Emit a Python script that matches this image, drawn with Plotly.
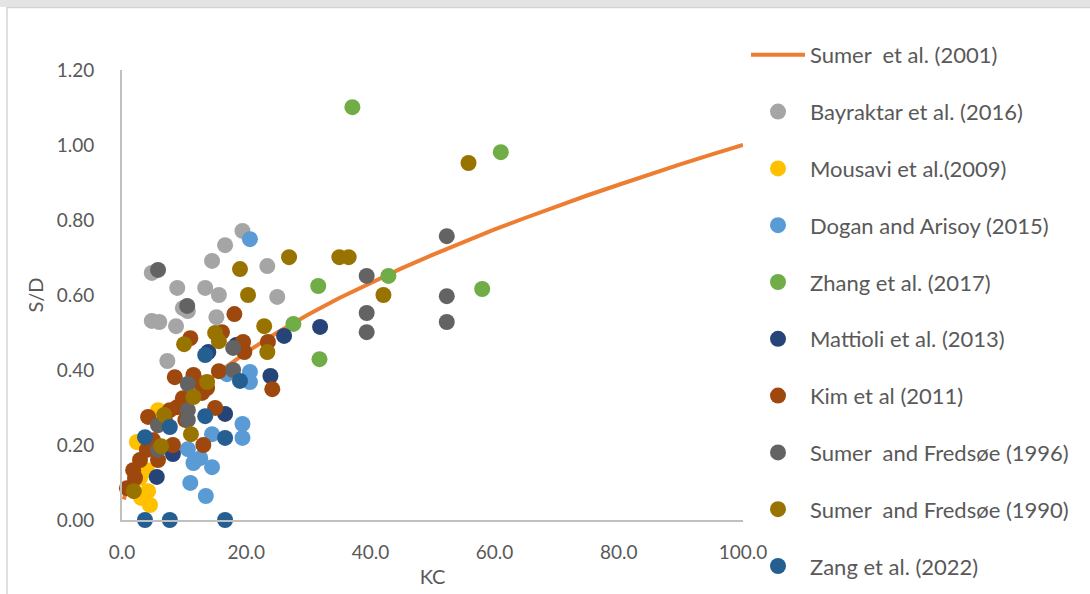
import plotly.graph_objects as go

# Sumer et al. (2001) curve, S/D versus KC
curve_kc = [0.3, 0.5, 1, 1.5, 2, 3, 4, 5, 6, 8, 10, 12, 15, 18, 20, 25, 30, 35, 40, 45,
            50, 55, 60, 65, 70, 75, 80, 85, 90, 95, 100]
curve_sd = [0.055, 0.07, 0.10, 0.122, 0.141, 0.173, 0.20, 0.224, 0.245, 0.283, 0.316, 0.346,
            0.387, 0.424, 0.447, 0.50, 0.548, 0.592, 0.632, 0.671, 0.707, 0.742, 0.775, 0.806,
            0.837, 0.866, 0.894, 0.922, 0.949, 0.975, 1.00]

bayraktar_kc = [4.8, 19.4, 16.6, 14.5, 23.4, 8.9, 13.4, 15.6, 25.0, 9.8, 10.6, 4.8, 6.0, 8.7, 15.2, 7.3]
bayraktar_sd = [0.659, 0.771, 0.733, 0.691, 0.677, 0.619, 0.619, 0.600, 0.595, 0.565, 0.557, 0.531, 0.528, 0.517, 0.541, 0.424]

mousavi_kc = [2.4, 5.8, 4.0, 4.2, 3.1, 4.5, 2.9]
mousavi_sd = [0.208, 0.293, 0.133, 0.077, 0.059, 0.040, 0.112]

dogan_kc = [20.6, 20.6, 20.6, 16.9, 19.4, 19.4, 14.5, 10.6, 11.8, 12.6, 14.5, 11.0, 13.5, 11.5]
dogan_sd = [0.749, 0.395, 0.368, 0.389, 0.256, 0.219, 0.229, 0.189, 0.160, 0.165, 0.141, 0.099, 0.064, 0.152]

zhang_kc = [37.1, 61.0, 42.9, 31.6, 58.0, 27.6, 31.8]
zhang_sd = [1.101, 0.981, 0.651, 0.624, 0.616, 0.523, 0.429]

mattioli_kc = [31.9, 26.1, 23.9, 16.6, 13.9, 18.4, 5.6, 8.2]
mattioli_sd = [0.515, 0.491, 0.384, 0.283, 0.448, 0.467, 0.115, 0.176]

kim_kc = [18.1, 16.1, 11.0, 19.5, 23.5, 19.7, 24.2, 15.6, 8.5, 11.5, 12.6, 13.7, 12.9, 15.0,
          9.8, 8.9, 7.7, 4.2, 6.9, 13.1, 8.2, 5.0, 5.8, 2.9, 4.0, 1.8, 2.1, 0.8, 10.2]
kim_sd = [0.549, 0.501, 0.485, 0.475, 0.475, 0.448, 0.349, 0.397, 0.381, 0.387, 0.365, 0.352, 0.339, 0.299,
          0.325, 0.301, 0.293, 0.275, 0.267, 0.200, 0.200, 0.213, 0.160, 0.160, 0.187, 0.133, 0.112, 0.085, 0.267]

sf1996_kc = [5.8, 10.5, 17.9, 17.9, 39.4, 39.4, 39.4, 52.3, 52.3, 52.3, 10.6, 10.6, 10.6, 5.8, 5.8]
sf1996_sd = [0.667, 0.571, 0.459, 0.400, 0.651, 0.552, 0.501, 0.757, 0.597, 0.528, 0.363, 0.293, 0.267, 0.253, 0.187]

sf1990_kc = [55.8, 26.9, 35.0, 36.5, 42.1, 19.0, 20.3, 22.9, 15.0, 15.6, 10.0, 23.4, 13.7, 11.5, 6.8, 11.1, 6.3, 1.9]
sf1990_sd = [0.952, 0.701, 0.701, 0.701, 0.600, 0.669, 0.600, 0.517, 0.499, 0.477, 0.469, 0.448, 0.368, 0.328, 0.280, 0.229, 0.197, 0.077]

zang_kc = [3.7, 7.7, 16.6, 3.7, 7.7, 13.4, 16.6, 19.0, 13.4]
zang_sd = [0.0, 0.0, 0.0, 0.221, 0.248, 0.277, 0.219, 0.371, 0.440]

x_ticks = [0, 20, 40, 60, 80, 100]
y_ticks = [0.0, 0.2, 0.4, 0.6, 0.8, 1.0, 1.2]

FONT = "Lato"
TEXT = "#595959"
AXIS = "#c0c0c0"

scatter_series = [
    ("Bayraktar et al. (2016)", bayraktar_kc, bayraktar_sd, "#a5a5a5"),
    ("Mousavi et al.(2009)", mousavi_kc, mousavi_sd, "#ffc000"),
    ("Dogan and Arisoy (2015)", dogan_kc, dogan_sd, "#5b9bd5"),
    ("Zhang et al. (2017)", zhang_kc, zhang_sd, "#70ad47"),
    ("Mattioli et al. (2013)", mattioli_kc, mattioli_sd, "#264478"),
    ("Kim et al (2011)", kim_kc, kim_sd, "#9e480e"),
    ("Sumer  and Fredsøe (1996)", sf1996_kc, sf1996_sd, "#636363"),
    ("Sumer  and Fredsøe (1990)", sf1990_kc, sf1990_sd, "#997300"),
    ("Zang et al. (2022)", zang_kc, zang_sd, "#255e91"),
]

fig = go.Figure()
fig.add_trace(go.Scatter(
    x=curve_kc, y=curve_sd, mode="lines", name="Sumer  et al. (2001)",
    line=dict(color="#ed7d31", width=4),
    legendgroup="g0",
))
for i, (name, xs, ys, col) in enumerate(scatter_series, start=1):
    fig.add_trace(go.Scatter(
        x=xs, y=ys, mode="markers", name=name,
        marker=dict(color=col, size=16, line=dict(width=0)),
        cliponaxis=False, legendgroup=f"g{i}",
    ))

L, R, T, B = 122, 347, 70, 74
W, H = 1090, 594
pw, ph = W - L - R, H - T - B

def px_x(p):
    return (p - L) / pw

def px_y(p):
    return (H - B - p) / ph

fig.update_layout(
    width=W, height=H,
    margin=dict(l=L, r=R, t=T, b=B, autoexpand=False),
    paper_bgcolor="white", plot_bgcolor="white",
    font=dict(family=FONT, size=19, color=TEXT),
    showlegend=True,
    legend=dict(
        x=px_x(746), y=px_y(34), xanchor="left", yanchor="top",
        itemwidth=54, tracegroupgap=25.2, maxheight=594,
        font=dict(family=FONT, size=22, color=TEXT),
        bgcolor="rgba(0,0,0,0)",
    ),
    xaxis=dict(
        range=[0, 100], tickvals=x_ticks, tickformat=".1f",
        showgrid=False, zeroline=False, showline=True, linecolor=AXIS, linewidth=2,
        ticks="", ticklabelstandoff=14,
        title=dict(text="KC", standoff=8, font=dict(size=20)),
    ),
    yaxis=dict(
        range=[0, 1.2], tickvals=y_ticks, tickformat=".2f",
        showgrid=False, zeroline=False, showline=True, linecolor=AXIS, linewidth=2,
        ticks="", ticklabelstandoff=22,
        title=dict(text="S/D", standoff=8, font=dict(size=20)),
    ),
    shapes=[
        dict(type="rect", xref="paper", yref="paper",
             x0=px_x(0), x1=px_x(W), y0=px_y(7), y1=px_y(0),
             fillcolor="#e4e4e4", line=dict(width=0), layer="below"),
        dict(type="line", xref="paper", yref="paper",
             x0=px_x(7), x1=px_x(7), y0=px_y(W), y1=px_y(7),
             line=dict(color="#d4d4d4", width=1.5)),
        dict(type="line", xref="paper", yref="paper",
             x0=px_x(7), x1=px_x(W), y0=px_y(7.5), y1=px_y(7.5),
             line=dict(color="#d4d4d4", width=1.5)),
    ],
)

fig.write_html("out.html")
